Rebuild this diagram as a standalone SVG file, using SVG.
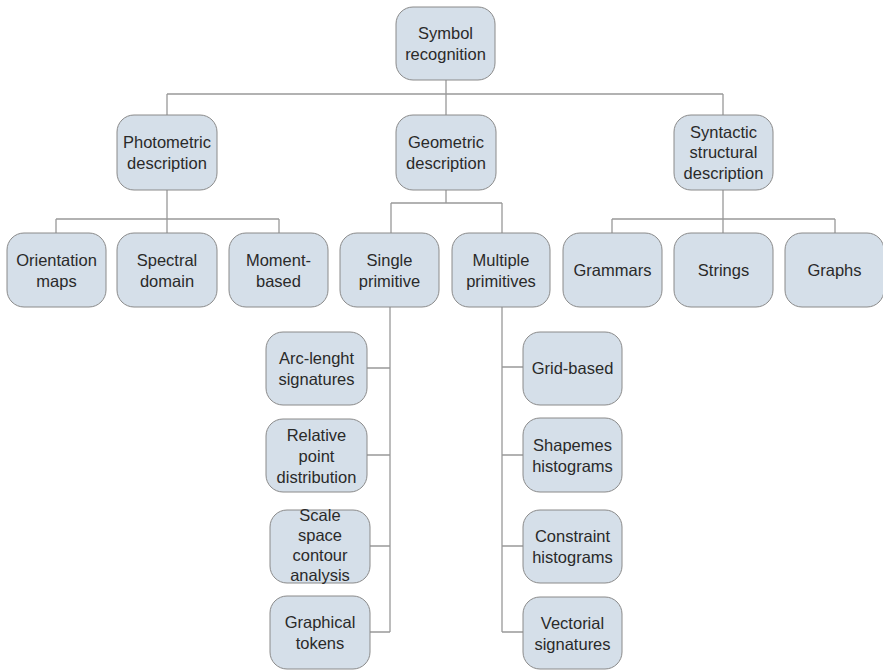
<svg xmlns="http://www.w3.org/2000/svg" width="883" height="670" viewBox="0 0 883 670">
  <style>
    .box { fill: #d5dfe9; stroke: #8a8a8a; stroke-width: 1; }
    .lbl { font-family: "Liberation Sans", Arial, sans-serif; font-size: 16.5px; fill: #2a2a2a; text-anchor: middle; }
    .wire { fill: none; stroke: #999999; stroke-width: 1.3; }
  </style>
  <rect width="883" height="670" fill="#ffffff"/>

  <g id="connectors">
    <!-- root to first level -->
    <path class="wire" d="M446 80 V94 M167 94 H723 M167 94 V115 M446 94 V115 M723 94 V115"/>
    <!-- photometric children -->
    <path class="wire" d="M167 190 V219 M56 219 H279 M56 219 V233 M167 219 V233 M279 219 V233"/>
    <!-- geometric children -->
    <path class="wire" d="M446 190 V203 M391 203 H502 M391 203 V233 M502 203 V233"/>
    <!-- syntactic children -->
    <path class="wire" d="M723 190 V219 M612 219 H835 M612 219 V233 M723 219 V233 M835 219 V233"/>
    <!-- single primitive list -->
    <path class="wire" d="M390 307 V632 M367 368 H390 M367 455 H390 M370 546 H390 M370 632 H390"/>
    <!-- multiple primitives list -->
    <path class="wire" d="M502 307 V632 M502 367 H523 M502 455 H523 M502 546 H523 M502 632 H523"/>
  </g>

  <g id="symbol-recognition">
    <rect class="box" x="396" y="7" width="99" height="73" rx="17"/>
    <text class="lbl" x="445.5" y="39">Symbol</text>
    <text class="lbl" x="445.5" y="60">recognition</text>
  </g>

  <g id="photometric">
    <rect class="box" x="117" y="115" width="100" height="75" rx="17"/>
    <text class="lbl" x="167" y="148">Photometric</text>
    <text class="lbl" x="167" y="169">description</text>
  </g>
  <g id="geometric">
    <rect class="box" x="396" y="115" width="100" height="75" rx="17"/>
    <text class="lbl" x="446" y="148">Geometric</text>
    <text class="lbl" x="446" y="169">description</text>
  </g>
  <g id="syntactic">
    <rect class="box" x="674" y="115" width="99" height="75" rx="17"/>
    <text class="lbl" x="723.5" y="138">Syntactic</text>
    <text class="lbl" x="723.5" y="158">structural</text>
    <text class="lbl" x="723.5" y="179">description</text>
  </g>

  <g id="orientation-maps">
    <rect class="box" x="7" y="233" width="99" height="74" rx="17"/>
    <text class="lbl" x="56.5" y="266">Orientation</text>
    <text class="lbl" x="56.5" y="287">maps</text>
  </g>
  <g id="spectral-domain">
    <rect class="box" x="117" y="233" width="100" height="74" rx="17"/>
    <text class="lbl" x="167" y="266">Spectral</text>
    <text class="lbl" x="167" y="287">domain</text>
  </g>
  <g id="moment-based">
    <rect class="box" x="229" y="233" width="99" height="74" rx="17"/>
    <text class="lbl" x="278.5" y="266">Moment-</text>
    <text class="lbl" x="278.5" y="287">based</text>
  </g>
  <g id="single-primitive">
    <rect class="box" x="340" y="233" width="99" height="74" rx="17"/>
    <text class="lbl" x="389.5" y="266">Single</text>
    <text class="lbl" x="389.5" y="287">primitive</text>
  </g>
  <g id="multiple-primitives">
    <rect class="box" x="452" y="233" width="98" height="74" rx="17"/>
    <text class="lbl" x="501" y="266">Multiple</text>
    <text class="lbl" x="501" y="287">primitives</text>
  </g>
  <g id="grammars">
    <rect class="box" x="563" y="233" width="99" height="74" rx="17"/>
    <text class="lbl" x="612.5" y="276">Grammars</text>
  </g>
  <g id="strings">
    <rect class="box" x="674" y="233" width="99" height="74" rx="17"/>
    <text class="lbl" x="723.5" y="276">Strings</text>
  </g>
  <g id="graphs">
    <rect class="box" x="785" y="233" width="99" height="74" rx="17"/>
    <text class="lbl" x="834.5" y="276">Graphs</text>
  </g>

  <g id="arc-length">
    <rect class="box" x="266" y="332" width="101" height="73" rx="17"/>
    <text class="lbl" x="316.5" y="364">Arc-lenght</text>
    <text class="lbl" x="316.5" y="385">signatures</text>
  </g>
  <g id="relative-point">
    <rect class="box" x="266" y="419" width="101" height="73" rx="17"/>
    <text class="lbl" x="316.5" y="441">Relative</text>
    <text class="lbl" x="316.5" y="462">point</text>
    <text class="lbl" x="316.5" y="483">distribution</text>
  </g>
  <g id="scale-space">
    <rect class="box" x="270" y="510" width="100" height="73" rx="17"/>
    <text class="lbl" x="320" y="521">Scale</text>
    <text class="lbl" x="320" y="541">space</text>
    <text class="lbl" x="320" y="561">contour</text>
    <text class="lbl" x="320" y="581">analysis</text>
  </g>
  <g id="graphical-tokens">
    <rect class="box" x="270" y="596" width="100" height="73" rx="17"/>
    <text class="lbl" x="320" y="628">Graphical</text>
    <text class="lbl" x="320" y="649">tokens</text>
  </g>

  <g id="grid-based">
    <rect class="box" x="523" y="332" width="99" height="73" rx="17"/>
    <text class="lbl" x="572.5" y="374">Grid-based</text>
  </g>
  <g id="shapemes">
    <rect class="box" x="523" y="418" width="99" height="74" rx="17"/>
    <text class="lbl" x="572.5" y="451">Shapemes</text>
    <text class="lbl" x="572.5" y="472">histograms</text>
  </g>
  <g id="constraint">
    <rect class="box" x="523" y="510" width="99" height="73" rx="17"/>
    <text class="lbl" x="572.5" y="542">Constraint</text>
    <text class="lbl" x="572.5" y="563">histograms</text>
  </g>
  <g id="vectorial">
    <rect class="box" x="523" y="597" width="99" height="72" rx="17"/>
    <text class="lbl" x="572.5" y="629">Vectorial</text>
    <text class="lbl" x="572.5" y="650">signatures</text>
  </g>
</svg>
